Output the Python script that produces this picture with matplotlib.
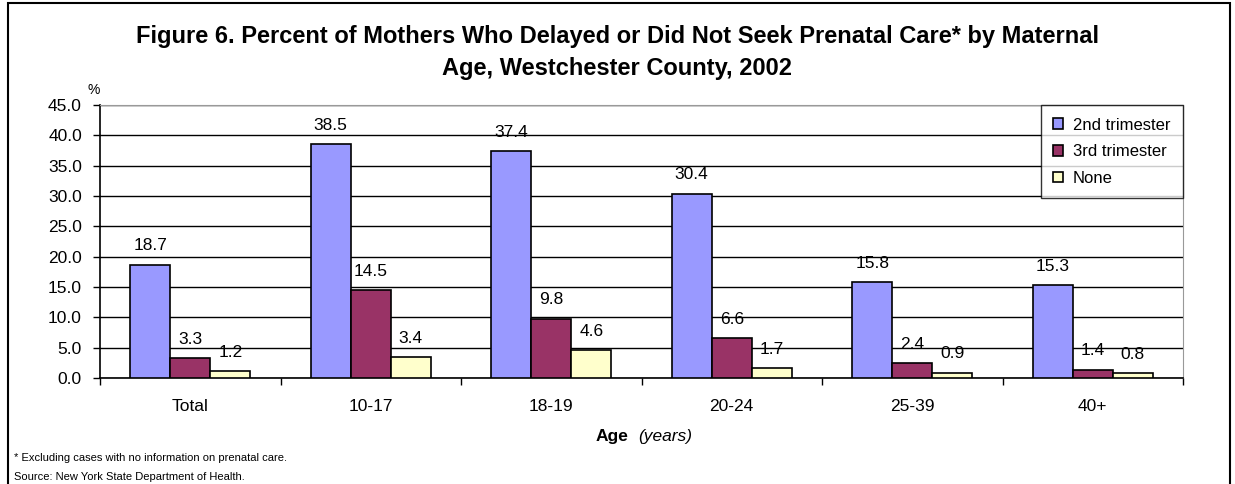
import matplotlib.pyplot as plt
import numpy as np
from matplotlib.patches import Rectangle

plt.rcParams['font.family'] = ['Liberation Sans', 'DejaVu Sans']

groups = ['Total', '10-17', '18-19', '20-24', '25-39', '40+']
series = ['2nd trimester', '3rd trimester', 'None']
second = [18.7, 38.5, 37.4, 30.4, 15.8, 15.3]
third = [3.3, 14.5, 9.8, 6.6, 2.4, 1.4]
none = [1.2, 3.4, 4.6, 1.7, 0.9, 0.8]
colors = ['#9999FF', '#993366', '#FFFFCC']
yticks = np.arange(0, 45.1, 5)

fig = plt.figure(figsize=(12.35, 4.84), dpi=100)
ax = fig.add_axes([100/1235, 1 - 378/484, (1183-100)/1235, (378-105)/484])

x = np.arange(len(groups))
w = 0.222
for k, (vals, c) in enumerate(zip([second, third, none], colors)):
    bars = ax.bar(x + (k - 1) * w, vals, w, color=c, edgecolor='black',
                  linewidth=1.2, label=series[k], zorder=3)
    for b, v in zip(bars, vals):
        ax.annotate('%.1f' % v, (b.get_x() + b.get_width() / 2, v),
                    xytext=(0, 8), textcoords='offset points',
                    ha='center', va='bottom', fontsize=12.5)

ax.set_xlim(-0.5, len(groups) - 0.5)
ax.set_ylim(0, 45)
ax.set_yticks(yticks)
ax.set_yticklabels(['%.1f' % t for t in yticks], fontsize=12.5)
ax.yaxis.grid(True, color='black', linewidth=1, zorder=0)
ax.set_xticks(x)
ax.set_xticklabels(groups, fontsize=12.5)
ax.set_xticks(np.arange(-0.5, len(groups)), minor=True)
ax.tick_params(axis='x', which='major', length=0, pad=15)
ax.tick_params(axis='x', which='minor', length=5, width=1)
ax.tick_params(axis='y', length=5, width=1, pad=8)
for s in ['top', 'right']:
    ax.spines[s].set_color('#999999')
for s in ['left', 'bottom']:
    ax.spines[s].set_linewidth(1.2)

ax.text(0.0, 1.03, '%', transform=ax.transAxes, fontsize=10, ha='right', va='bottom')

leg = ax.legend(loc='upper right', bbox_to_anchor=(1.0, 1.0), fontsize=12,
                frameon=True, fancybox=False, edgecolor='black',
                handlelength=0.6, handleheight=0.6, handletextpad=0.6,
                borderpad=0.75, labelspacing=0.7, borderaxespad=0)
leg.get_frame().set_linewidth(1)

fig.text(0.5, 1 - 37/484, 'Figure 6. Percent of Mothers Who Delayed or Did Not Seek Prenatal Care* by Maternal',
         ha='center', va='center', fontsize=17, fontweight='bold')
fig.text(0.5, 1 - 68/484, 'Age, Westchester County, 2002',
         ha='center', va='center', fontsize=17, fontweight='bold')

fig.text(628/1235, 1 - 437/484, 'Age', ha='right', va='center', fontsize=12.5, fontweight='bold')
fig.text(638/1235, 1 - 437/484, '(years)', ha='left', va='center', fontsize=12.5, style='italic')

fig.text(14/1235, 1 - 458/484, '* Excluding cases with no information on prenatal care.',
         ha='left', va='center', fontsize=8)
fig.text(14/1235, 1 - 477/484, 'Source: New York State Department of Health.',
         ha='left', va='center', fontsize=8)

fig.add_artist(Rectangle((8/1235, -0.01), (1230-8)/1235, 1 - 3/484 + 0.01,
                         transform=fig.transFigure, fill=False, edgecolor='black', linewidth=1.5))

fig.savefig('out.png', dpi=100)
